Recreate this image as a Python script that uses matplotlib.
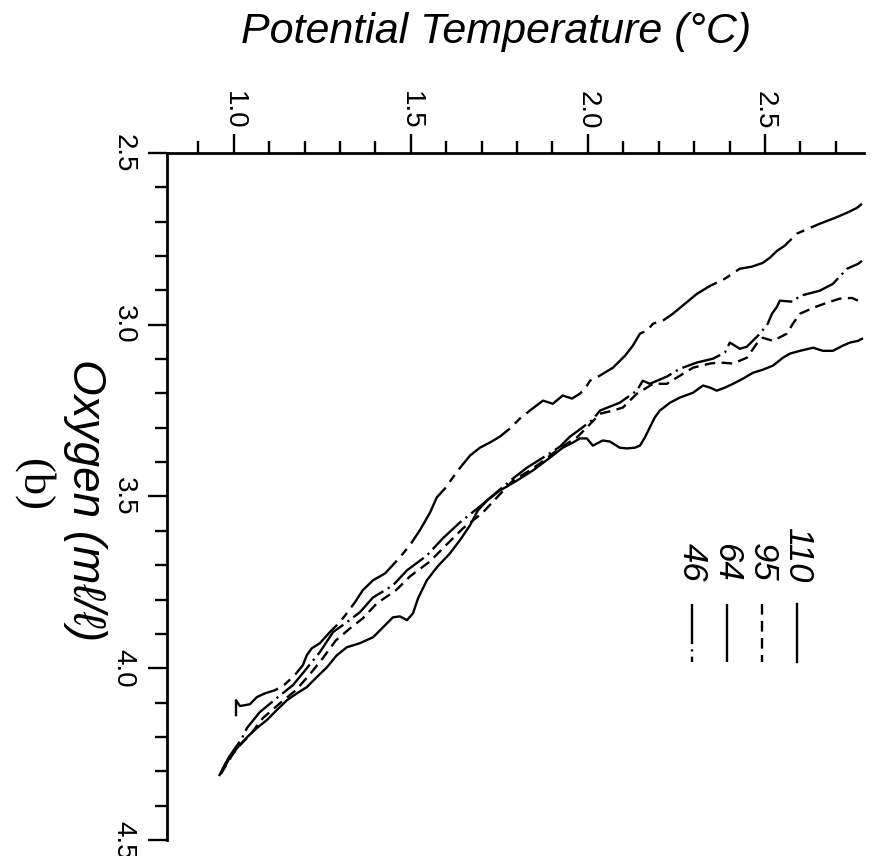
import matplotlib
matplotlib.use("Agg")
import matplotlib.pyplot as plt
from matplotlib.ticker import MultipleLocator, FormatStrFormatter

plt.rcParams['font.family'] = ['Liberation Sans', 'DejaVu Sans']

# profiles: potential temperature (deg C) vs oxygen (ml/l)
t_110 = [0.966, 0.989, 1.011, 1.037, 1.065, 1.093, 1.121, 1.150, 1.178, 1.206, 1.234,
         1.263, 1.291, 1.319, 1.356, 1.393, 1.421, 1.449, 1.469, 1.489, 1.506, 1.520, 1.545,
         1.576, 1.610, 1.638, 1.667, 1.689, 1.715, 1.751, 1.799, 1.845, 1.893, 1.929, 1.958,
         1.977, 1.997, 2.014, 2.025, 2.042, 2.062, 2.090, 2.110, 2.133, 2.147, 2.161, 2.175,
         2.189, 2.203, 2.232, 2.260, 2.297, 2.325, 2.345, 2.364, 2.387, 2.410, 2.438, 2.466,
         2.494, 2.523, 2.551, 2.571, 2.599, 2.636, 2.664, 2.692, 2.720, 2.740, 2.763, 2.774]
o_110 = [4.302, 4.259, 4.230, 4.201, 4.174, 4.151, 4.122, 4.093, 4.073, 4.055, 4.026,
         3.997, 3.962, 3.939, 3.927, 3.910, 3.881, 3.852, 3.849, 3.860, 3.840, 3.797, 3.744,
         3.703, 3.666, 3.628, 3.584, 3.541, 3.512, 3.483, 3.454, 3.424, 3.387, 3.358, 3.343,
         3.331, 3.331, 3.352, 3.346, 3.337, 3.340, 3.358, 3.360, 3.358, 3.352, 3.328, 3.299,
         3.270, 3.250, 3.227, 3.212, 3.198, 3.177, 3.183, 3.192, 3.183, 3.172, 3.157, 3.140,
         3.131, 3.119, 3.096, 3.084, 3.076, 3.067, 3.076, 3.076, 3.061, 3.052, 3.047, 3.041]

t_95 = [0.963, 0.980, 0.997, 1.020, 1.045, 1.082, 1.130, 1.175, 1.215, 1.251, 1.288, 1.328,
        1.364, 1.404, 1.458, 1.497, 1.554, 1.599, 1.647, 1.703, 1.751, 1.788, 1.836, 1.864,
        1.912, 1.941, 1.969, 1.997, 2.034, 2.071, 2.099, 2.138, 2.184, 2.223, 2.251, 2.297,
        2.345, 2.373, 2.410, 2.449, 2.477, 2.494, 2.523, 2.562, 2.579, 2.599, 2.636, 2.675,
        2.712, 2.746, 2.763, 2.774]
o_95 = [4.308, 4.279, 4.250, 4.221, 4.195, 4.145, 4.102, 4.064, 4.017, 3.971, 3.919, 3.884,
        3.855, 3.811, 3.773, 3.733, 3.689, 3.642, 3.593, 3.547, 3.494, 3.454, 3.424, 3.404,
        3.366, 3.346, 3.328, 3.299, 3.259, 3.250, 3.241, 3.201, 3.172, 3.172, 3.154, 3.125,
        3.113, 3.110, 3.113, 3.096, 3.055, 3.038, 3.047, 3.026, 2.997, 2.968, 2.951, 2.936,
        2.924, 2.922, 2.930, 2.930]

t_64 = [1.006, 1.006, 1.017, 1.045, 1.065, 1.088, 1.116, 1.144, 1.172, 1.195, 1.206, 1.220,
        1.243, 1.271, 1.299, 1.319, 1.342, 1.364, 1.393, 1.427, 1.446, 1.469, 1.497, 1.525,
        1.554, 1.573, 1.596, 1.633, 1.667, 1.695, 1.723, 1.751, 1.780, 1.808, 1.836, 1.873,
        1.901, 1.929, 1.955, 1.977, 1.992, 2.006, 2.034, 2.071, 2.105, 2.127, 2.147, 2.167,
        2.184, 2.212, 2.240, 2.274, 2.308, 2.345, 2.387, 2.429, 2.463, 2.494, 2.514, 2.534,
        2.556, 2.590, 2.621, 2.655, 2.698, 2.732, 2.760, 2.774]
o_64 = [4.140, 4.093, 4.110, 4.105, 4.084, 4.073, 4.064, 4.047, 4.020, 3.991, 3.962, 3.942,
        3.927, 3.895, 3.866, 3.840, 3.808, 3.773, 3.744, 3.724, 3.703, 3.677, 3.642, 3.599,
        3.547, 3.503, 3.477, 3.424, 3.381, 3.358, 3.343, 3.326, 3.302, 3.273, 3.250, 3.221,
        3.230, 3.206, 3.215, 3.201, 3.186, 3.163, 3.148, 3.125, 3.090, 3.061, 3.026, 3.017,
        2.997, 2.988, 2.968, 2.939, 2.910, 2.887, 2.866, 2.837, 2.831, 2.820, 2.805, 2.785,
        2.770, 2.735, 2.721, 2.706, 2.689, 2.674, 2.660, 2.648]

t_46 = [0.958, 0.972, 0.986, 1.003, 1.020, 1.037, 1.073, 1.121, 1.167, 1.206, 1.243, 1.280,
        1.319, 1.356, 1.393, 1.449, 1.489, 1.545, 1.590, 1.638, 1.695, 1.751, 1.788, 1.828,
        1.873, 1.921, 1.949, 1.977, 2.014, 2.034, 2.090, 2.138, 2.155, 2.175, 2.223, 2.260,
        2.308, 2.353, 2.387, 2.401, 2.429, 2.449, 2.486, 2.508, 2.520, 2.534, 2.542, 2.579,
        2.599, 2.655, 2.692, 2.732, 2.763, 2.774]
o_46 = [4.314, 4.285, 4.259, 4.233, 4.209, 4.174, 4.128, 4.087, 4.049, 4.000, 3.953, 3.895,
        3.866, 3.837, 3.794, 3.759, 3.715, 3.672, 3.622, 3.576, 3.529, 3.480, 3.448, 3.416,
        3.387, 3.355, 3.326, 3.305, 3.276, 3.250, 3.227, 3.192, 3.163, 3.172, 3.151, 3.128,
        3.110, 3.099, 3.081, 3.052, 3.070, 3.064, 3.026, 2.997, 2.968, 2.948, 2.930, 2.933,
        2.916, 2.901, 2.881, 2.837, 2.823, 2.814]

stations = ['110', '95', '64', '46']
styles = {
    '110': '-',
    '95': (0, (4.5, 2.7)),
    '64': (0, (28, 3, 3.5, 3)),
    '46': (0, (17, 2.2, 0.9, 2.2)),
}
profiles = {'110': (t_110, o_110), '95': (t_95, o_95), '64': (t_64, o_64), '46': (t_46, o_46)}

fig = plt.figure(figsize=(8.71, 8.56), dpi=100)
ax = fig.add_axes([0.1917, 0.0187, 0.8003, 0.8026])

for st in stations:
    t, o = profiles[st]
    ax.plot(t, o, color='black', lw=1.7, linestyle=styles[st])

ax.set_xlim(0.811, 2.78)
ax.set_ylim(4.5, 2.5)

for side in ['bottom', 'right']:
    ax.spines[side].set_visible(False)
for side in ['top', 'left']:
    ax.spines[side].set_linewidth(2.0)

ax.xaxis.tick_top()
ax.xaxis.set_major_locator(MultipleLocator(0.5))
ax.xaxis.set_minor_locator(MultipleLocator(0.1))
ax.yaxis.set_major_locator(MultipleLocator(0.5))
ax.yaxis.set_minor_locator(MultipleLocator(0.1))
ax.xaxis.set_major_formatter(FormatStrFormatter('%.1f'))
ax.yaxis.set_major_formatter(FormatStrFormatter('%.1f'))
ax.tick_params(which='major', direction='out', length=14, width=1.7, labelsize=20)
ax.tick_params(which='minor', direction='out', length=9, width=1.7)
ax.tick_params(axis='x', pad=3)
ax.tick_params(axis='y', pad=8)
plt.setp(ax.get_xticklabels(), rotation=-90, ha='center', va='bottom')
plt.setp(ax.get_yticklabels(), rotation=-90, ha='right', va='center')

# station key, drawn vertically inside the axes
key_x = {'46': 0.753, '64': 0.803, '95': 0.854, '110': 0.904}
for st in stations:
    ax.plot([key_x[st], key_x[st]], [0.3435, 0.259], transform=ax.transAxes,
            color='black', lw=1.7, linestyle=styles[st])
    ax.text(key_x[st], 0.3755, st, transform=ax.transAxes, rotation=-90,
            rotation_mode='anchor', ha='right', va='center', fontsize=25, style='italic')

fig.text(0.57, 0.963, 'Potential Temperature (°C)', ha='center', va='center',
         fontsize=31, style='italic')
fig.text(0.0976, 0.416, 'Oxygen (mℓ/ℓ)', ha='center', va='center', rotation=-90,
         fontsize=33, style='italic')
fig.text(0.039, 0.433, '(b)', ha='center', va='center', rotation=-90,
         fontsize=32, family=['Liberation Serif', 'DejaVu Serif'])

fig.savefig('out.png', dpi=100)
